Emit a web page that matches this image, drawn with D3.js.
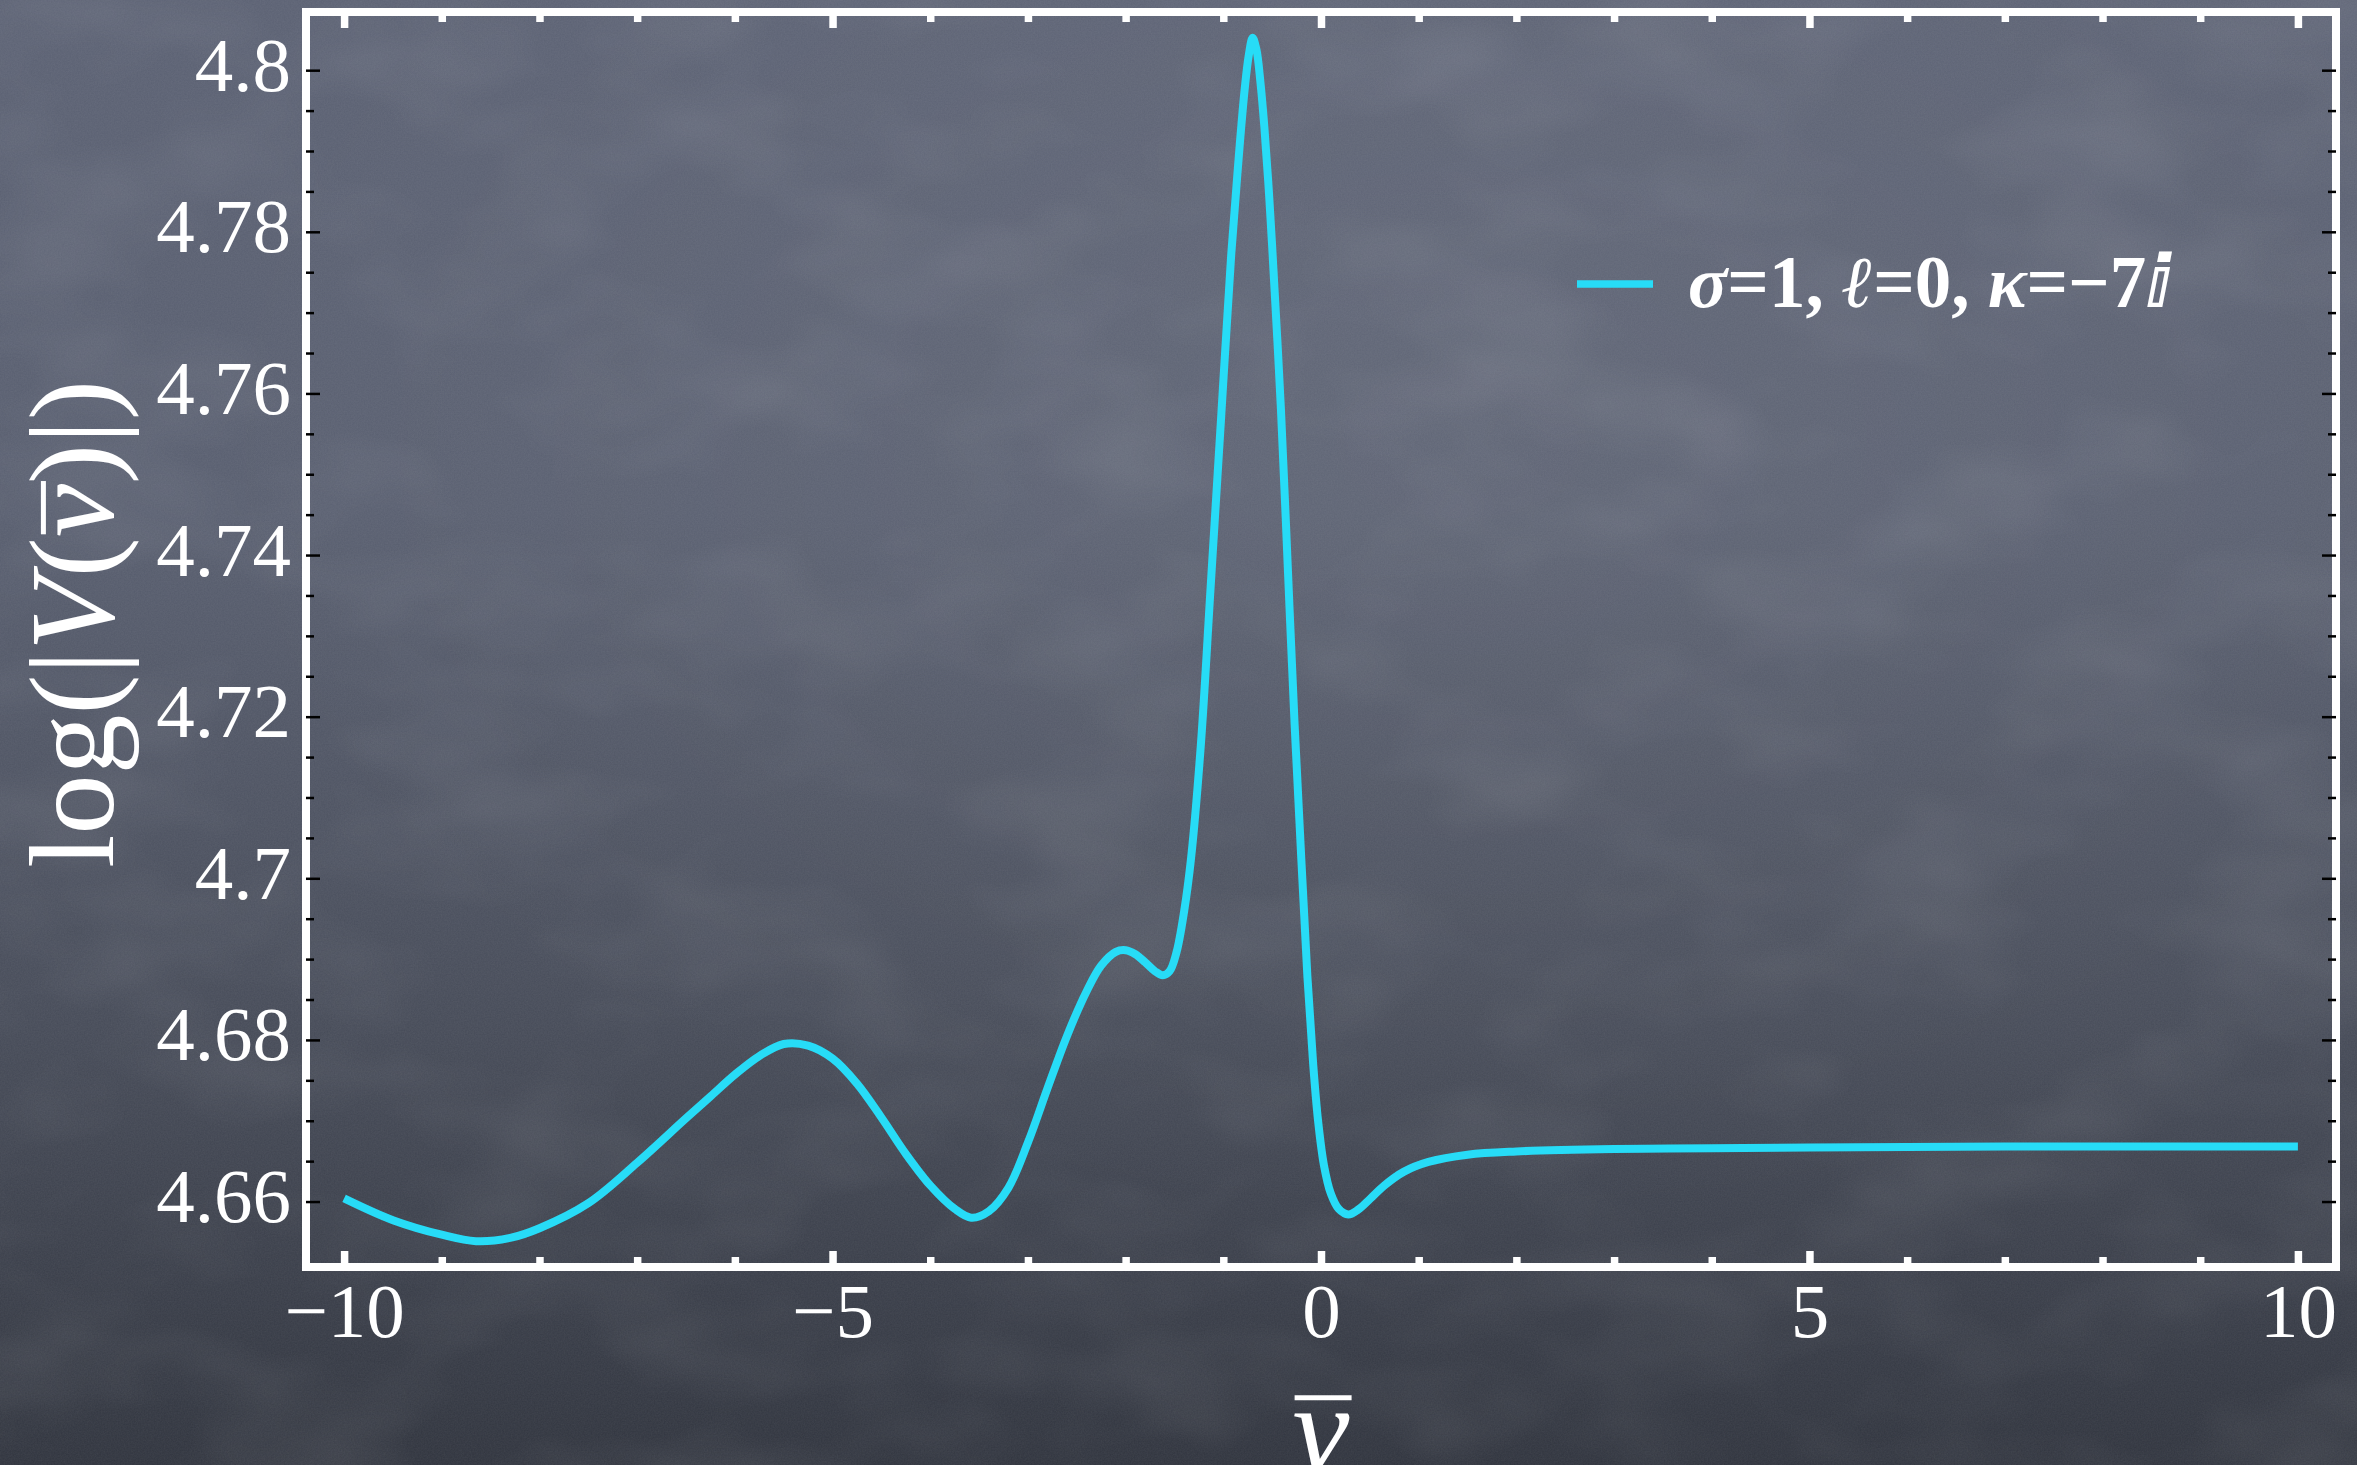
<!DOCTYPE html>
<html>
<head>
<meta charset="utf-8">
<script src="https://cdn.jsdelivr.net/npm/d3@7"></script>
<style>
  html, body { margin: 0; padding: 0; background: #454a57; }
  svg { display: block; }
</style>
</head>
<body>
<svg id="chart" width="2357" height="1465"></svg>
<script>
// ---- data ----
const vbar = [-10, -9.5, -9.0, -8.65, -8.3, -8.0, -7.5, -7.0, -6.5, -6.25, -6.0, -5.75, -5.5, -5.25, -5.0,
  -4.75, -4.5, -4.25, -4.0, -3.75, -3.58, -3.4, -3.2, -3.0, -2.8, -2.6, -2.4, -2.25, -2.1, -2.0, -1.9,
  -1.8, -1.7, -1.62, -1.55, -1.48, -1.40, -1.33, -1.23, -1.13, -1.02, -0.92, -0.86, -0.82, -0.78, -0.74,
  -0.70, -0.66, -0.62, -0.58, -0.54, -0.50, -0.41, -0.34, -0.27, -0.20, -0.14, -0.08, -0.03, 0.03,
  0.10, 0.18, 0.28, 0.38, 0.50, 0.65, 0.85, 1.1, 1.5, 2.0, 3.0, 4.0, 5.0, 7.0, 10.0];
const logV = [4.6604, 4.6577, 4.6559, 4.6551, 4.6555, 4.6567, 4.6598, 4.6648, 4.6703, 4.6730, 4.6757, 4.6780, 4.6795, 4.6793, 4.6777,
  4.6746, 4.6704, 4.6659, 4.6620, 4.6591, 4.6580, 4.6588, 4.6617, 4.6673, 4.6740, 4.6805, 4.6860, 4.6892, 4.6909, 4.6911, 4.6906,
  4.6896, 4.6885, 4.6880, 4.6885, 4.6908, 4.6960, 4.7025, 4.7165, 4.7360, 4.7575, 4.7770, 4.7865, 4.7925, 4.7978, 4.8018,
  4.8040, 4.8025, 4.7985, 4.7930, 4.7862, 4.7782, 4.7580, 4.7385, 4.7190, 4.7020, 4.6880, 4.6770, 4.6700, 4.6645,
  4.6610, 4.6591, 4.6584, 4.6590, 4.6603, 4.6620, 4.6637, 4.6649, 4.6658, 4.6662, 4.6665, 4.6666, 4.6667, 4.6668, 4.6668];

const xMajorTicks = [-10, -5, 0, 5, 10];
const xTickLabels = ["\u221210", "\u22125", "0", "5", "10"];
const xMinorTicks = d3.range(-10, 10.001, 1);
const yMajorTicks = [4.66, 4.68, 4.70, 4.72, 4.74, 4.76, 4.78, 4.80];
const yTickLabels = ["4.66", "4.68", "4.7", "4.72", "4.74", "4.76", "4.78", "4.8"];
const yMinorTicks = d3.range(0, 29).map(i => +(4.66 + i * 0.005).toFixed(3));

// ---- layout ----
const W = 2357, H = 1465;
const svg = d3.select("#chart");
const defs = svg.append("defs");

const bg = defs.append("linearGradient").attr("id", "bg").attr("x1", 0).attr("y1", 0).attr("x2", 0).attr("y2", 1);
[["0%", "#5b6173"], ["35%", "#585e6f"], ["70%", "#464b58"], ["100%", "#30343e"]]
  .forEach(([o, c]) => bg.append("stop").attr("offset", o).attr("stop-color", c));
const glow = defs.append("radialGradient").attr("id", "glow").attr("cx", 0.62).attr("cy", 0.3).attr("r", 0.55);
glow.append("stop").attr("offset", "0%").attr("stop-color", "#ffffff").attr("stop-opacity", 0.05);
glow.append("stop").attr("offset", "100%").attr("stop-color", "#ffffff").attr("stop-opacity", 0);

const noise = defs.append("filter").attr("id", "noise").attr("x", 0).attr("y", 0).attr("width", 1).attr("height", 1);
noise.append("feTurbulence").attr("type", "fractalNoise").attr("baseFrequency", "0.7").attr("numOctaves", 2).attr("seed", 4);
noise.append("feColorMatrix").attr("type", "matrix")
  .attr("values", "0 0 0 0 1  0 0 0 0 1  0 0 0 0 1  0.07 0 0 0 0");
const cloud = defs.append("filter").attr("id", "cloud").attr("x", 0).attr("y", 0).attr("width", 1).attr("height", 1);
cloud.append("feTurbulence").attr("type", "fractalNoise").attr("baseFrequency", "0.005 0.009").attr("numOctaves", 3).attr("seed", 7);
cloud.append("feColorMatrix").attr("type", "matrix")
  .attr("values", "0 0 0 0 1  0 0 0 0 1  0 0 0 0 1  0.16 0 0 0 -0.07");

svg.append("rect").attr("width", W).attr("height", H).attr("fill", "url(#bg)");
svg.append("rect").attr("width", W).attr("height", H).attr("fill", "url(#glow)");
svg.append("rect").attr("width", W).attr("height", H).attr("filter", "url(#cloud)");
svg.append("rect").attr("width", W).attr("height", H).attr("filter", "url(#noise)");

const x = d3.scaleLinear().domain([-10.39, 10.39]).range([306, 2336]);
const y = d3.scaleLinear().domain([4.6519, 4.8072]).range([1267, 12]);

const serif = "'Liberation Serif', 'Times New Roman', Times, serif";

// frame
svg.append("rect")
  .attr("x", x.range()[0]).attr("y", y.range()[1])
  .attr("width", x.range()[1] - x.range()[0]).attr("height", y.range()[0] - y.range()[1])
  .attr("fill", "none").attr("stroke", "#ffffff").attr("stroke-width", 8);

function styleTicks(g, color, width) {
  g.select(".domain").remove();
  g.selectAll(".tick line").attr("stroke", color).attr("stroke-width", width);
  g.selectAll(".tick text").remove();
}
const xMinorOnly = xMinorTicks.filter(v => !xMajorTicks.includes(v));
const innerBottom = y.range()[0] - 4, innerTop = y.range()[1] + 4;
svg.append("g").attr("transform", `translate(0,${innerBottom})`)
  .call(d3.axisTop(x).tickValues(xMinorOnly).tickSize(6).tickFormat(""))
  .call(g => styleTicks(g, "#ffffff", 7.5));
svg.append("g").attr("transform", `translate(0,${innerBottom})`)
  .call(d3.axisTop(x).tickValues(xMajorTicks).tickSize(12).tickFormat(""))
  .call(g => styleTicks(g, "#ffffff", 7.5));
svg.append("g").attr("transform", `translate(0,${innerTop})`)
  .call(d3.axisBottom(x).tickValues(xMinorOnly).tickSize(6).tickFormat(""))
  .call(g => styleTicks(g, "#ffffff", 7.5));
svg.append("g").attr("transform", `translate(0,${innerTop})`)
  .call(d3.axisBottom(x).tickValues(xMajorTicks).tickSize(12).tickFormat(""))
  .call(g => styleTicks(g, "#ffffff", 7.5));

const yMinorOnly = yMinorTicks.filter(v => !yMajorTicks.some(m => Math.abs(m - v) < 1e-9));
const xl = x.range()[0], xr = x.range()[1];
svg.append("g").attr("transform", `translate(${xl},0)`)
  .call(d3.axisRight(y).tickValues(yMinorOnly).tickSize(8).tickFormat(""))
  .call(g => styleTicks(g, "#000000", 2.5));
svg.append("g").attr("transform", `translate(${xl},0)`)
  .call(d3.axisRight(y).tickValues(yMajorTicks).tickSize(14).tickFormat(""))
  .call(g => styleTicks(g, "#000000", 2.5));
svg.append("g").attr("transform", `translate(${xr},0)`)
  .call(d3.axisLeft(y).tickValues(yMinorOnly).tickSize(8).tickFormat(""))
  .call(g => styleTicks(g, "#000000", 2.5));
svg.append("g").attr("transform", `translate(${xr},0)`)
  .call(d3.axisLeft(y).tickValues(yMajorTicks).tickSize(14).tickFormat(""))
  .call(g => styleTicks(g, "#000000", 2.5));

// tick labels
const xLab = svg.append("g").attr("transform", `translate(0,${y.range()[0]})`)
  .call(d3.axisBottom(x).tickValues(xMajorTicks).tickSize(0).tickPadding(15)
    .tickFormat((d, i) => xTickLabels[i]));
xLab.select(".domain").remove();
xLab.selectAll("text").attr("fill", "#ffffff").attr("font-family", serif).attr("font-size", 77);

const yLab = svg.append("g").attr("transform", `translate(${xl},0)`)
  .call(d3.axisLeft(y).tickValues(yMajorTicks).tickSize(0).tickPadding(15)
    .tickFormat((d, i) => yTickLabels[i]));
yLab.select(".domain").remove();
yLab.selectAll("text").attr("fill", "#ffffff").attr("font-family", serif).attr("font-size", 77).attr("dy", "0.26em");

// curve
const pts = vbar.map((v, i) => [v, logV[i]]);
const line = d3.line().x(d => x(d[0])).y(d => y(d[1])).curve(d3.curveCatmullRom.alpha(0.5));
svg.append("path").datum(pts).attr("d", line)
  .attr("fill", "none").attr("stroke", "#27dcf7").attr("stroke-width", 8)
  .attr("stroke-linejoin", "round");

// legend
const lg = svg.append("g");
lg.append("line").attr("x1", 1577).attr("x2", 1653).attr("y1", 284).attr("y2", 284)
  .attr("stroke", "#27dcf7").attr("stroke-width", 7.5);
const lt = lg.append("text").attr("x", 1688).attr("y", 307)
  .attr("fill", "#ffffff").attr("font-family", serif).attr("font-size", 73).attr("font-weight", "bold");
lt.append("tspan").attr("font-style", "italic").text("\u03c3");
lt.append("tspan").text("=1, ");
lt.append("tspan").attr("font-style", "italic").text("\u2113");
lt.append("tspan").text("=0, ");
lt.append("tspan").attr("font-style", "italic").text("\u03ba");
lt.append("tspan").text("=\u22127");
lt.append("tspan").attr("font-family", "'DejaVu Serif', 'DejaVu Sans', serif").attr("font-weight", "bold").text("\u2148");

// x-axis title: italic v with an over-bar
const xt = svg.append("text").attr("x", x(0)).attr("y", 1472).attr("text-anchor", "middle")
  .attr("fill", "#ffffff").attr("font-family", serif).attr("font-size", 128).attr("font-style", "italic")
  .text("v");
{
  const b = xt.node().getBBox();
  svg.append("line").attr("x1", b.x + 2).attr("x2", b.x + b.width + 2)
    .attr("y1", 1472 - 0.58 * 128).attr("y2", 1472 - 0.58 * 128)
    .attr("stroke", "#ffffff").attr("stroke-width", 5);
}

// y-axis title: log(|V(v̄)|) rotated
const yFs = 120;
const yg = svg.append("g").attr("transform", `translate(113,624) rotate(-90)`);
const yt = yg.append("text").attr("text-anchor", "middle")
  .attr("fill", "#ffffff").attr("font-family", serif).attr("font-size", yFs);
yt.append("tspan").text("log(|");
yt.append("tspan").attr("font-style", "italic").text("V");
yt.append("tspan").text("(");
yt.append("tspan").attr("font-style", "italic").text("v");
yt.append("tspan").text(")|)");
{
  const node = yt.node();
  const idx = 7; // position of "v" in "log(|V(v)|)"
  const ext = node.getExtentOfChar(idx);
  const yy = -0.58 * yFs;
  yg.append("line").attr("x1", ext.x + 3).attr("x2", ext.x + ext.width + 3)
    .attr("y1", yy).attr("y2", yy).attr("stroke", "#ffffff").attr("stroke-width", 5);
}
</script>
</body>
</html>
